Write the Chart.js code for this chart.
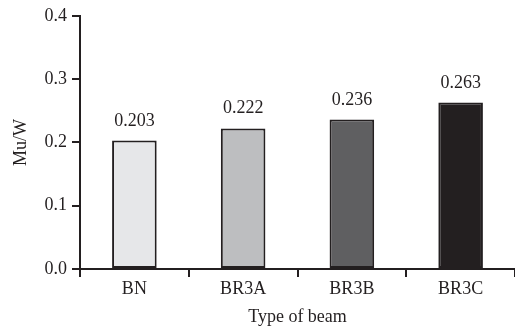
<!DOCTYPE html>
<html>
<head>
<meta charset="utf-8">
<script src="https://cdn.jsdelivr.net/npm/chart.js@4/dist/chart.umd.min.js"></script>
<style>
  html, body { margin: 0; padding: 0; background: #fff; }
  #wrap { width: 515px; height: 328px; }
</style>
</head>
<body>
<div id="wrap"><canvas id="chartBeam" width="515" height="328"></canvas></div>
<script>
const categories = ['BN', 'BR3A', 'BR3B', 'BR3C'];
const muW        = [0.203, 0.222, 0.236, 0.263];
const barColors  = ['#e6e7e9', '#bdbec0', '#5f5f61', '#231f20'];
const yTicks     = [0.0, 0.1, 0.2, 0.3, 0.4];

const ink  = '#231f20';
const font = { family: 'Liberation Serif', size: 18 };

// ── etiquetas de valor encima de cada barra ──
const valueLabels = {
    id: 'valueLabels',
    afterDatasetsDraw(chart) {
        const ctx = chart.ctx;
        const meta = chart.getDatasetMeta(0);
        ctx.save();
        ctx.font = `${font.size}px ${font.family}`;
        ctx.fillStyle = ink;
        ctx.textAlign = 'center';
        ctx.textBaseline = 'alphabetic';
        meta.data.forEach((bar, i) => {
            ctx.fillText(muW[i].toFixed(3), bar.x, bar.y - 15);
        });
        ctx.restore();
    }
};

new Chart(document.getElementById('chartBeam'), {
    type: 'bar',
    data: {
        labels: categories,
        datasets: [{
            data: muW,
            backgroundColor: barColors,
            borderColor: ink,
            borderWidth: 2,
            borderSkipped: false,
            categoryPercentage: 1,
            barPercentage: 0.41
        }]
    },
    options: {
        responsive: false,
        animation: false,
        devicePixelRatio: 1,
        layout: { padding: { left: 0, right: 0, top: 14, bottom: 0 } },
        plugins: { legend: { display: false }, tooltip: { enabled: false } },
        scales: {
            x: {
                afterFit: s => { s.height = 59; },
                grid: { drawOnChartArea: false, offset: true, tickLength: 8, color: ink, lineWidth: 2 },
                border: { color: ink, width: 2 },
                ticks: { font, color: ink, padding: 1 },
                title: { display: true, text: 'Type of beam', font, color: ink, padding: { top: 2, bottom: 0 } }
            },
            y: {
                min: 0,
                max: 0.4,
                afterFit: s => { s.width = 80; },
                afterBuildTicks: s => { s.ticks = yTicks.map(v => ({ value: v })); },
                grid: { drawOnChartArea: false, tickLength: 8, color: ink, lineWidth: 2 },
                border: { color: ink, width: 2 },
                ticks: { font, color: ink, padding: 5, callback: v => v.toFixed(1) },
                title: { display: true, text: 'Mu/W', font, color: ink, padding: { top: 10, bottom: 0 } }
            }
        }
    },
    plugins: [valueLabels]
});
</script>
</body>
</html>
